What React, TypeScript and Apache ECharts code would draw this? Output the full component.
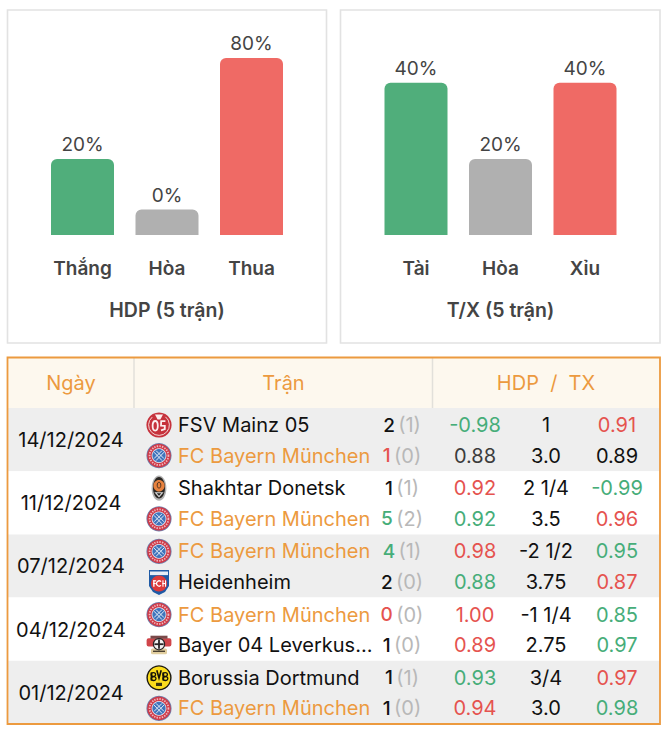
import React, { useEffect, useRef } from "react";
import * as echarts from "echarts";

const FONT = "Inter, 'Noto Sans', sans-serif";

// Bar charts: printed percentages, and the drawn level of each bar on a 0-100 axis
const hdpCategories = ["Thắng", "Hòa", "Thua"];
const hdpLabels = ["20%", "0%", "80%"];
const hdpLevels = [43, 14.4, 100];
const hdpTitle = "HDP (5 trận)";

const txCategories = ["Tài", "Hòa", "Xỉu"];
const txLabels = ["40%", "20%", "40%"];
const txLevels = [86, 43, 86];
const txTitle = "T/X (5 trận)";

const barColors = ["#50ae7b", "#b0b0b0", "#ef6a65"];

// Table
const headers = ["Ngày", "Trận", "HDP  /  TX"];
const dates = ["14/12/2024", "11/12/2024", "07/12/2024", "04/12/2024", "01/12/2024"];
const teams = [
  ["FSV Mainz 05", "FC Bayern München"],
  ["Shakhtar Donetsk", "FC Bayern München"],
  ["FC Bayern München", "Heidenheim"],
  ["FC Bayern München", "Bayer 04 Leverkus..."],
  ["Borussia Dortmund", "FC Bayern München"],
];
const logos = [
  ["mainz", "bayern"],
  ["shakhtar", "bayern"],
  ["bayern", "heidenheim"],
  ["bayern", "leverkusen"],
  ["dortmund", "bayern"],
];
const goals = [[2, 1], [1, 5], [4, 2], [0, 1], [1, 1]];
const halfGoals = [[1, 0], [1, 2], [1, 0], [0, 0], [1, 0]];
const goalTones = [["k", "r"], ["k", "g"], ["g", "k"], ["r", "k"], ["k", "k"]];
const hdpOdds = [["-0.98", "0.88"], ["0.92", "0.92"], ["0.98", "0.88"], ["1.00", "0.89"], ["0.93", "0.94"]];
const hdpTones = [["g", "d"], ["r", "g"], ["r", "g"], ["r", "r"], ["g", "r"]];
const lines = [["1", "3.0"], ["2 1/4", "3.5"], ["-2 1/2", "3.75"], ["-1 1/4", "2.75"], ["3/4", "3.0"]];
const txOdds = [["0.91", "0.89"], ["-0.99", "0.96"], ["0.95", "0.87"], ["0.85", "0.97"], ["0.97", "0.98"]];
const txTones = [["r", "k"], ["g", "r"], ["g", "r"], ["g", "g"], ["r", "g"]];

const tones: Record<string, string> = { k: "#111111", d: "#3c3c3c", r: "#e5534f", g: "#46ad79" };
const ORANGE = "#ec9a3f";

function logo(kind: string, x: number, y: number) {
  let children: any[] = [];
  if (kind === "bayern") {
    children = [
      { type: "circle", shape: { r: 12.6 }, style: { fill: "#6f80ad" } },
      { type: "circle", shape: { r: 11.8 }, style: { fill: "#cf3a48" } },
      { type: "circle", shape: { r: 9.4 }, style: { fill: "none", stroke: "#eeb9bf", lineWidth: 1.8, lineDash: [1.4, 1.2] } },
      { type: "circle", shape: { r: 7.4 }, style: { fill: "#e9e9f0" } },
      { type: "circle", shape: { r: 6.6 }, style: { fill: "#3f74bb" } },
      { type: "line", shape: { x1: -5, y1: -3.4, x2: 3, y2: 5 }, style: { stroke: "#dfe8f5", lineWidth: 1 } },
      { type: "line", shape: { x1: -3, y1: -5, x2: 5, y2: 3 }, style: { stroke: "#dfe8f5", lineWidth: 1 } },
      { type: "line", shape: { x1: 5, y1: -3.4, x2: -3, y2: 5 }, style: { stroke: "#dfe8f5", lineWidth: 1 } },
      { type: "line", shape: { x1: 3, y1: -5, x2: -5, y2: 3 }, style: { stroke: "#dfe8f5", lineWidth: 1 } },
    ];
  } else if (kind === "mainz") {
    children = [
      { type: "circle", shape: { r: 12.6 }, style: { fill: "#c6323c" } },
      { type: "arc", shape: { cx: 0, cy: 0, r: 10.4, startAngle: -0.9, endAngle: 4.0 }, style: { fill: "none", stroke: "#f3d3d3", lineWidth: 1 } },
      { type: "polygon", shape: { points: [[-4, -10.5], [4, -10.5], [1.4, -5.5], [-1.4, -5.5]] }, style: { fill: "#fbeeee" } },
      { type: "ellipse", shape: { cx: -3.8, cy: 0.8, rx: 2.6, ry: 4.8 }, style: { fill: "none", stroke: "#fbeeee", lineWidth: 1.8 } },
      { type: "polyline", shape: { points: [[6.4, -3.8], [2.2, -3.8], [2, 0.6], [5.8, 0.8], [5.8, 4.2], [2, 5.4]] }, style: { fill: "none", stroke: "#fbeeee", lineWidth: 1.8 } },
    ];
  } else if (kind === "shakhtar") {
    children = [
      { type: "ellipse", shape: { cx: 0, cy: 0, rx: 7.4, ry: 12.6 }, style: { fill: "#b2b2b2" } },
      { type: "ellipse", shape: { cx: 0, cy: -0.5, rx: 6, ry: 10.8 }, style: { fill: "#2a2623" } },
      { type: "ellipse", shape: { cx: 0, cy: -2.5, rx: 5.6, ry: 5.8 }, style: { fill: "#e8823e" } },
      { type: "ellipse", shape: { cx: 0, cy: -3, rx: 1.8, ry: 3 }, style: { fill: "none", stroke: "#4b3220", lineWidth: 1 } },
      { type: "polygon", shape: { points: [[-4.6, 4], [4.6, 4], [0, 9.4]] }, style: { fill: "#d9d9d9" } },
      { type: "polygon", shape: { points: [[-2.2, 5], [2.2, 5], [0, 7.6]] }, style: { fill: "#222222" } },
    ];
  } else if (kind === "heidenheim") {
    children = [
      { type: "polygon", shape: { points: [[-10, -12], [10, -12], [10, 4], [6, 10], [0, 13], [-6, 10], [-10, 4]] }, style: { fill: "#1f5aa5" } },
      { type: "rect", shape: { x: -9, y: -10.5, width: 18, height: 3.6 }, style: { fill: "#e6edf6" } },
      { type: "circle", shape: { cx: 0, cy: 1.5, r: 8 }, style: { fill: "#dc3a3a" } },
      { type: "rect", shape: { x: -5.8, y: -1.8, width: 1.3, height: 6.6 }, style: { fill: "#ffffff" } },
      { type: "rect", shape: { x: -5.8, y: -1.8, width: 3, height: 1.2 }, style: { fill: "#ffffff" } },
      { type: "rect", shape: { x: -5.8, y: 1, width: 2.6, height: 1.1 }, style: { fill: "#ffffff" } },
      { type: "arc", shape: { cx: 0.2, cy: 1.5, r: 2.6, startAngle: 0.8, endAngle: 5.5 }, style: { fill: "none", stroke: "#ffffff", lineWidth: 1.2 } },
      { type: "rect", shape: { x: 3.4, y: -1.8, width: 1.1, height: 6.6 }, style: { fill: "#ffffff" } },
      { type: "rect", shape: { x: 6, y: -1.8, width: 1.1, height: 6.6 }, style: { fill: "#ffffff" } },
      { type: "rect", shape: { x: 3.4, y: 1, width: 3.4, height: 1.1 }, style: { fill: "#ffffff" } },
    ];
  } else if (kind === "leverkusen") {
    children = [
      { type: "rect", shape: { x: -12.4, y: -7, width: 24.8, height: 8.2, r: 2 }, style: { fill: "#d0454a" } },
      { type: "rect", shape: { x: -8.5, y: -9.5, width: 17, height: 3 }, style: { fill: "#7a4a4a" } },
      { type: "rect", shape: { x: -8, y: 3.2, width: 16, height: 5.8, r: 1.5 }, style: { fill: "#e2cfa0" } },
      { type: "rect", shape: { x: -6, y: 5.4, width: 12, height: 1.4 }, style: { fill: "#4a4030" } },
      { type: "circle", shape: { cx: 0, cy: -1, r: 6.2 }, style: { fill: "#2a2526" } },
      { type: "circle", shape: { cx: 0, cy: -1, r: 5 }, style: { fill: "#f2f2f2" } },
      { type: "rect", shape: { x: -0.9, y: -5.6, width: 1.8, height: 9.2 }, style: { fill: "#2a2526" } },
      { type: "rect", shape: { x: -4.6, y: -1.9, width: 9.2, height: 1.8 }, style: { fill: "#2a2526" } },
    ];
  } else {
    children = [
      { type: "circle", shape: { r: 12.6 }, style: { fill: "#1d1a10" } },
      { type: "circle", shape: { r: 11.2 }, style: { fill: "#fbdc1c" } },
      { type: "rect", shape: { x: -8.4, y: -5.4, width: 1.8, height: 8.2 }, style: { fill: "#14120a" } },
      { type: "ellipse", shape: { cx: -5.6, cy: -3.2, rx: 2.2, ry: 1.9 }, style: { fill: "none", stroke: "#14120a", lineWidth: 1.3 } },
      { type: "ellipse", shape: { cx: -5.4, cy: 0.8, rx: 2.4, ry: 1.9 }, style: { fill: "none", stroke: "#14120a", lineWidth: 1.3 } },
      { type: "polyline", shape: { points: [[-2.2, -7.5], [0, 0.2], [2.2, -7.5]] }, style: { fill: "none", stroke: "#14120a", lineWidth: 1.6 } },
      { type: "rect", shape: { x: 3.4, y: -5.4, width: 1.8, height: 8.2 }, style: { fill: "#14120a" } },
      { type: "ellipse", shape: { cx: 6.2, cy: -3.2, rx: 2.2, ry: 1.9 }, style: { fill: "none", stroke: "#14120a", lineWidth: 1.3 } },
      { type: "ellipse", shape: { cx: 6.4, cy: 0.8, rx: 2.4, ry: 1.9 }, style: { fill: "none", stroke: "#14120a", lineWidth: 1.3 } },
      { type: "rect", shape: { x: -3, y: 5, width: 6, height: 3.2 }, style: { fill: "#3b3610" } },
    ];
  }
  return { type: "group", x, y, children };
}

function txt(text: string, x: number, y: number, fill: string, align = "center", fontSize = 20, extra: any = {}) {
  return {
    type: "text",
    x,
    y,
    style: { text, fill, align, verticalAlign: "middle", font: `${extra.weight || 400} ${fontSize}px ${FONT}` },
  };
}

function tableElements() {
  const els: any[] = [];
  const top = 357.5, headBottom = 408, rowH = 63.2, left = 7.5, right = 660;
  // panels
  [[7.5, 326.5], [340.5, 660]].forEach(([a, b]) => {
    els.push({ type: "rect", shape: { x: a, y: 10, width: b - a, height: 333 }, style: { fill: "none", stroke: "#e2e2e2", lineWidth: 1.6 } });
  });
  els.push({ type: "rect", shape: { x: left, y: top, width: right - left, height: headBottom - top }, style: { fill: "#fdf8ee" } });
  dates.forEach((_, i) => {
    els.push({
      type: "rect",
      shape: { x: left, y: headBottom + i * rowH, width: right - left, height: rowH },
      style: { fill: i % 2 === 0 ? "#eeeeee" : "#ffffff" },
    });
  });
  [134, 432.5].forEach((x) => {
    els.push({ type: "line", shape: { x1: x, y1: top, x2: x, y2: headBottom }, style: { stroke: "#e2e0da", lineWidth: 1.5 } });
  });
  els.push({ type: "rect", shape: { x: left, y: top, width: right - left, height: 724 - top }, style: { fill: "none", stroke: ORANGE, lineWidth: 1.8 } });
  els.push(txt(headers[0], 71, 383, ORANGE));
  els.push(txt(headers[1], 283.5, 383, ORANGE));
  els.push(txt(headers[2], 546, 383, ORANGE));
  dates.forEach((d, i) => {
    const y0 = headBottom + i * rowH;
    els.push(txt(d, 71, y0 + 32, "#111111"));
    [0, 1].forEach((j) => {
      const y = y0 + 17 + j * 30.6;
      els.push(logo(logos[i][j], 159, y));
      const name = teams[i][j];
      els.push(txt(name, 178, y, name.startsWith("FC Bayern") ? ORANGE : "#111111", "left"));
      els.push({
        type: "text",
        x: 402,
        y,
        style: {
          text: `{g|${goals[i][j]}} {h|(${halfGoals[i][j]})}`,
          align: "center",
          verticalAlign: "middle",
          rich: {
            g: { fontWeight: 500, fontSize: 19, fontFamily: FONT, fill: tones[goalTones[i][j]] },
            h: { fontSize: 20, fontFamily: FONT, fill: "#b8b8b8" },
          },
        },
      });
      els.push(txt(hdpOdds[i][j], 475, y, tones[hdpTones[i][j]]));
      els.push(txt(lines[i][j], 546, y, "#111111"));
      els.push(txt(txOdds[i][j], 617, y, tones[txTones[i][j]]));
    });
  });
  return els;
}

function barSeries(levels: number[], labels: string[], idx: number) {
  return {
    type: "bar",
    xAxisIndex: idx,
    yAxisIndex: idx,
    barWidth: 63,
    data: levels.map((v, i) => ({ value: v, itemStyle: { color: barColors[i], borderRadius: [6, 6, 0, 0] } })),
    label: {
      show: true,
      position: "top",
      distance: 5,
      formatter: (p: any) => labels[p.dataIndex],
      color: "#444444",
      fontSize: 19,
      fontFamily: FONT,
    },
  };
}

function axisX(cats: string[], title: string, gridIndex: number) {
  return {
    type: "category",
    gridIndex,
    data: cats,
    axisLine: { show: false },
    axisTick: { show: false },
    axisLabel: { margin: 24, color: "#444444", fontSize: 19, fontWeight: 600, fontFamily: FONT, interval: 0 },
    name: title,
    nameLocation: "middle",
    nameGap: 65,
    nameTextStyle: { color: "#444444", fontSize: 19.5, fontWeight: 600, fontFamily: FONT },
  };
}

function axisY(gridIndex: number) {
  return { type: "value", gridIndex, min: 0, max: 100, show: false, splitLine: { show: false } };
}

export default function App() {
  const ref = useRef<HTMLDivElement>(null);
  useEffect(() => {
    document.body.style.margin = "0";
    const chart = echarts.init(ref.current!, undefined, { renderer: "svg" });
    chart.setOption({
      animation: false,
      backgroundColor: "#ffffff",
      grid: [
        { left: 40.25, top: 58, width: 253.5, height: 177 },
        { left: 373.75, top: 58, width: 253.5, height: 177 },
      ],
      xAxis: [axisX(hdpCategories, hdpTitle, 0), axisX(txCategories, txTitle, 1)],
      yAxis: [axisY(0), axisY(1)],
      series: [barSeries(hdpLevels, hdpLabels, 0), barSeries(txLevels, txLabels, 1)],
      graphic: { elements: tableElements() },
    });
    return () => chart.dispose();
  }, []);
  return <div ref={ref} style={{ width: 670, height: 736 }} />;
}
